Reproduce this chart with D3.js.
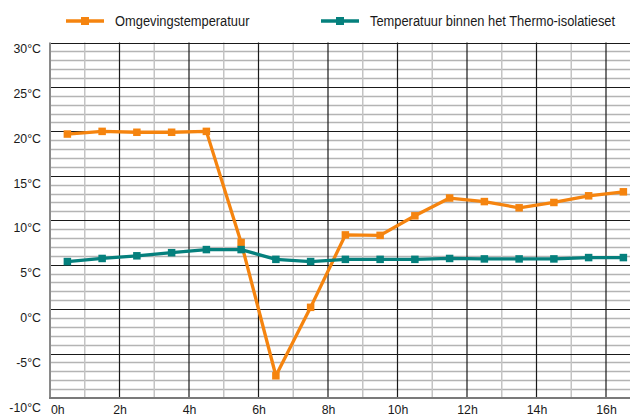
<!DOCTYPE html>
<html>
<head>
<meta charset="utf-8">
<script src="https://cdn.jsdelivr.net/npm/d3@7/dist/d3.min.js"></script>
<style>
  html, body { margin: 0; padding: 0; background: #fff; }
  svg { display: block; }
  text { font-family: "Liberation Sans", Arial, sans-serif; fill: #1a1a1a; }
</style>
</head>
<body>
<svg id="chart" width="630" height="417"></svg>
<script>
// Measurement times (hours) and temperatures (°C)
const hours = [0.5, 1.5, 2.5, 3.5, 4.5, 5.5, 6.5, 7.5, 8.5, 9.5, 10.5, 11.5, 12.5, 13.5, 14.5, 15.5, 16.5];
const ambient = [19.7, 20.0, 19.9, 19.9, 20.0, 7.5, -7.5, 0.2, 8.35, 8.3, 10.5, 12.5, 12.1, 11.4, 12.0, 12.75, 13.2];
const inside = [5.35, 5.7, 6.0, 6.35, 6.7, 6.7, 5.6, 5.35, 5.6, 5.6, 5.6, 5.7, 5.65, 5.65, 5.65, 5.8, 5.8];

const seriesNames = ["Omgevingstemperatuur", "Temperatuur binnen het Thermo-isolatieset"];
const seriesColors = ["#f5840f", "#05807d"];

const yTickValues = [-10, -5, 0, 5, 10, 15, 20, 25, 30];
const yTickLabels = ["-10°C", "-5°C", "0°C", "5°C", "10°C", "15°C", "20°C", "25°C", "30°C"];
const xTickValues = [0, 2, 4, 6, 8, 10, 12, 14, 16];
const xTickLabels = ["0h", "2h", "4h", "6h", "8h", "10h", "12h", "14h", "16h"];

const svg = d3.select("#chart");
const plotLeft = 50, plotTop = 42.5, plotBottom = 398;

const x = d3.scaleLinear().domain([0, 17]).range([plotLeft, plotLeft + 17 * 34.75]);
const y = d3.scaleLinear().domain([-10, 30]).range([plotBottom, plotTop]);
// baseline positions of the temperature labels (they sit just below their grid line)
const yLabel = d3.scaleLinear().domain([-10, 30]).range([411, 52.7]);

const grid = svg.append("g");

// minor horizontal lines every degree
grid.selectAll(".hminor")
  .data(d3.range(-9, 30).filter(v => v % 5 !== 0))
  .join("line")
  .attr("x1", plotLeft).attr("x2", 630)
  .attr("y1", d => Math.round(y(d)) + 0.5).attr("y2", d => Math.round(y(d)) + 0.5)
  .attr("stroke", "#b4b4b4").attr("stroke-width", 1.4);

// odd-hour vertical lines
grid.selectAll(".vminor")
  .data(d3.range(1, 17, 2))
  .join("line")
  .attr("x1", d => x(d)).attr("x2", d => x(d))
  .attr("y1", plotTop).attr("y2", plotBottom)
  .attr("stroke", "#c4c4c4").attr("stroke-width", 1.5);

// even-hour vertical lines
grid.selectAll(".vmajor")
  .data(d3.range(2, 17, 2))
  .join("line")
  .attr("x1", d => x(d)).attr("x2", d => x(d))
  .attr("y1", plotTop).attr("y2", plotBottom)
  .attr("stroke", "#1a1a1a").attr("stroke-width", 1.2);

// major horizontal lines every 5 degrees
grid.selectAll(".hmajor")
  .data(d3.range(-5, 31, 5))
  .join("line")
  .attr("x1", plotLeft).attr("x2", 630)
  .attr("y1", d => Math.round(y(d)) + 0.5).attr("y2", d => Math.round(y(d)) + 0.5)
  .attr("stroke", "#1a1a1a").attr("stroke-width", 1.2);

// axis lines
svg.append("line")
  .attr("x1", plotLeft).attr("x2", plotLeft).attr("y1", plotTop).attr("y2", plotBottom + 1)
  .attr("stroke", "#8a8a8a").attr("stroke-width", 2);
svg.append("line")
  .attr("x1", plotLeft - 1).attr("x2", 630).attr("y1", plotBottom).attr("y2", plotBottom)
  .attr("stroke", "#7a7a7a").attr("stroke-width", 2.2);

// y labels (slightly condensed)
const yAxis = d3.axisLeft(yLabel).tickValues(yTickValues)
  .tickFormat((d, i) => yTickLabels[i]).tickSize(0);
const gy = svg.append("g").attr("transform", `translate(${plotLeft},0)`).call(yAxis);
gy.select(".domain").remove();
gy.selectAll("text")
  .attr("x", null).attr("dy", null).attr("text-anchor", "end")
  .attr("transform", "translate(-9,0) scale(0.95,1)")
  .style("font-size", "13px").style("fill", "#1a1a1a");

// x labels
const xAxis = d3.axisBottom(x).tickValues(xTickValues)
  .tickFormat((d, i) => xTickLabels[i]).tickSize(0);
const gx = svg.append("g").attr("transform", `translate(0,${plotBottom})`).call(xAxis);
gx.select(".domain").remove();
gx.selectAll("text")
  .attr("y", null).attr("dy", null)
  .attr("text-anchor", d => d === 0 ? "start" : "middle")
  .attr("transform", d => `translate(${d === 0 ? 0.5 : 0},16) scale(0.95,1)`)
  .style("font-size", "13px").style("fill", "#1a1a1a");

// series
const line = d3.line().x(d => x(d[0])).y(d => y(d[1]));
[ambient, inside].forEach((vals, si) => {
  const pts = hours.map((h, i) => [h, vals[i]]);
  const g = svg.append("g");
  g.append("path").datum(pts)
    .attr("d", line).attr("fill", "none")
    .attr("stroke", seriesColors[si]).attr("stroke-width", 3.3)
    .attr("stroke-linejoin", "round");
  g.selectAll("rect").data(pts).join("rect")
    .attr("x", d => x(d[0]) - 3.75).attr("y", d => y(d[1]) - 3.75)
    .attr("width", 7.5).attr("height", 7.5)
    .attr("fill", seriesColors[si]);
});

// legend
const legendX = [66, 321];
seriesNames.forEach((name, i) => {
  const g = svg.append("g").attr("transform", `translate(${legendX[i]},21)`);
  g.append("line").attr("x1", 0).attr("x2", 38).attr("y1", 0).attr("y2", 0)
    .attr("stroke", seriesColors[i]).attr("stroke-width", 3.6);
  g.append("rect").attr("x", 15).attr("y", -4).attr("width", 8).attr("height", 8)
    .attr("fill", seriesColors[i]);
  g.append("text").attr("transform", "translate(49,4.5) scale(0.92,1)")
    .style("font-size", "14px").text(name);
});
</script>
</body>
</html>
